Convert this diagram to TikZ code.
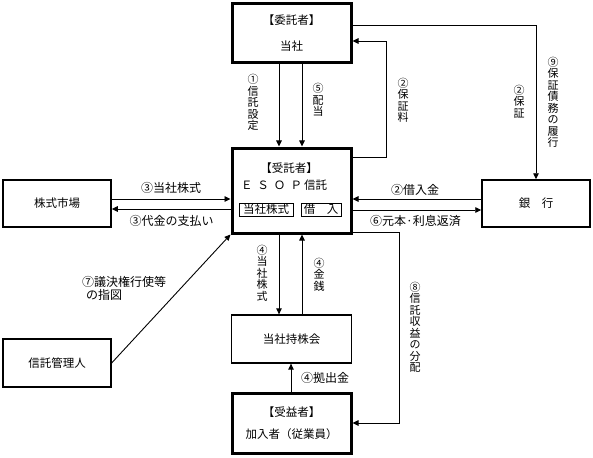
\documentclass[tikz,border=0pt]{standalone}
\usepackage{fontspec}
\setmainfont{Noto Sans CJK JP}
\usetikzlibrary{arrows.meta}
\begin{document}
\begin{tikzpicture}[x=1pt,y=-1pt,
  every node/.style={font=\fontsize{11.5}{14}\selectfont},
  thickbox/.style={draw, line width=3pt, minimum width=119pt, align=center, inner sep=0pt},
  thinbox/.style={draw, line width=1.5pt, minimum width=108pt, minimum height=47pt, inner sep=0pt},
  smallbox/.style={draw, line width=0.8pt, minimum height=13pt, inner sep=0pt},
  arr/.style={line width=0.9pt, -{Triangle[length=6pt,width=5.5pt]}},
  vlab/.style={align=center, inner sep=0pt, font=\fontsize{11}{11.5}\selectfont},
  hlab/.style={inner sep=0pt, font=\fontsize{12}{14}\selectfont}
]
\useasboundingbox (0,0) rectangle (593,457);
% boxes
\node[thickbox, minimum height=59pt] (itaku) at (291.5,33.5) {【委託者】\\[12pt]当社};
\node[thickbox, minimum height=85pt] (jutaku) at (291.5,190.5) {};
\node[inner sep=0pt] (jutakuA) at (289,168) {【受託者】};
\node[inner sep=0pt] (jutakuB) at (284,185) {Ｅ\hspace{5pt}Ｓ\hspace{5pt}Ｏ\hspace{5pt}Ｐ\hspace{2pt}信託};
\node[smallbox, minimum width=54pt] (tb1) at (266,209.5) {当社株式};
\node[smallbox, minimum width=40pt] (tb2) at (321,209.5) {借　入};
\node[thinbox] (kabu) at (57,203.5) {株式市場};
\node[thinbox] (bank) at (536,203.5) {銀　行};
\node[thinbox, line width=1.3pt, minimum width=120pt, minimum height=48pt] (mochi) at (291.5,339) {当社持株会};
\node[thinbox, line width=1.3pt, minimum height=48pt] (kanri) at (57,363) {信託管理人};
\node[thickbox, minimum height=60pt] (jueki) at (291.5,423) {【受益者】\\[8pt]加入者（従業員）};
% connectors
\draw[arr] ([xshift=-12.5pt]itaku.south) -- ([xshift=-12.5pt]jutaku.north);
\draw[arr] ([xshift=10.5pt]itaku.south) -- ([xshift=10.5pt]jutaku.north);
\draw[arr] ([yshift=-11pt]jutaku.north east) -- ++(33.5,0) |- ([yshift=-7.5pt]itaku.east);
\draw[arr] ([yshift=8.5pt]itaku.east) -| (bank.north);
\draw[arr] ([yshift=4.5pt]bank.west) -- ([yshift=4.5pt]bank.west -| jutaku.east);
\draw[arr] ([yshift=-6.5pt]bank.west -| jutaku.east) -- ([yshift=-6.5pt]bank.west);
\draw[arr] ([yshift=4.5pt]kabu.east) -- ([yshift=4.5pt]kabu.east -| jutaku.west);
\draw[arr] ([yshift=-5.5pt]kabu.east -| jutaku.west) -- ([yshift=-5.5pt]kabu.east);
\draw[arr] ([xshift=-12.5pt]jutaku.south) -- ([xshift=-12.5pt]mochi.north);
\draw[arr] ([xshift=10.5pt]mochi.north) -- ([xshift=10.5pt]jutaku.south);
\draw[arr] ([xshift=-0.5pt]jueki.north) -- ([xshift=-0.5pt]mochi.south);
\draw[arr] ([yshift=2pt]jutaku.south east) -- ++(46.5,0) |- (jueki.east);
\draw[arr] (kanri.east) -- (jutaku.south west);
% labels
\node[vlab] (l1) at (253,102.5) {①\\信\\託\\設\\定};
\node[vlab] (l5) at (318,100) {⑤\\配\\当};
\node[vlab] (l2a) at (403,100.5) {②\\保\\証\\料};
\node[vlab] (l2b) at (519,101.5) {②\\保\\証};
\node[vlab] (l9) at (553,102.5) {⑨\\保\\証\\債\\務\\の\\履\\行};
\node[hlab] (l3a) at (171,188) {③当社株式};
\node[hlab] (l3b) at (171.5,221) {③代金の支払い};
\node[hlab] (l2c) at (415,190) {②借入金};
\node[hlab] (l6) at (415.5,221) {⑥元本·利息返済};
\node[vlab] (l4a) at (262,273) {④\\当\\社\\株\\式};
\node[vlab] (l4b) at (319,274.5) {④\\金\\銭};
\node[hlab] (l4c) at (325,378) {④拠出金};
\node[vlab] (l8) at (415,327.5) {⑧\\信\\託\\収\\益\\の\\分\\配};
\node[hlab, align=left, anchor=west, font=\fontsize{12}{13}\selectfont] (l7) at (82,288.5) {⑦議決権行使等\\\hspace{4pt}の指図};
\end{tikzpicture}
\end{document}
